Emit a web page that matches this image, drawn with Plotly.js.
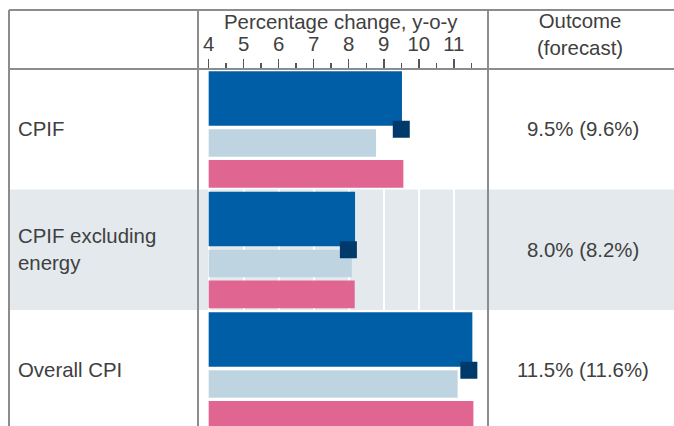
<!DOCTYPE html>
<html>
<head>
<meta charset="utf-8">
<script src="https://cdn.plot.ly/plotly-3.0.1.min.js"></script>
<style>
html,body{margin:0;padding:0;background:#fff;}
#chart{width:674px;height:426px;}
</style>
</head>
<body>
<div id="chart"></div>
<script>
// ---- data ----
const categories = ['CPIF', 'CPIF excluding energy', 'Overall CPI'];
const categoryLabels = ['CPIF', 'CPIF excluding<br>energy', 'Overall CPI'];
const darkBlueValues = [9.52, 8.18, 11.53];
const lightBlueValues = [8.78, 8.09, 11.11];
const pinkValues = [9.56, 8.17, 11.56];
const markerValues = [9.50, 7.99, 11.43];
const outcome = [9.5, 8.0, 11.5];
const forecast = [9.6, 8.2, 11.6];
const tickValues = [4, 5, 6, 7, 8, 9, 10, 11];
const axisTitle = 'Percentage change, y-o-y';
const outcomeHeader = 'Outcome<br>(forecast)';

// ---- layout constants ----
const W = 674, H = 426;
const FONT = 'Liberation Sans, Arial, sans-serif';
const FS = 20.4;
const TXT = '#404040';
const LINE = '#8c8c8c';
const BASE = 4;
const px = v => v / W;
const py = v => 1 - v / H;

const common = {type: 'bar', orientation: 'h', y: categories, base: BASE, hoverinfo: 'skip'};
const traces = [
  Object.assign({}, common, {x: darkBlueValues.map(v => v - BASE), offset: -0.481, width: 0.452,
    marker: {color: '#005ea6'}}),
  Object.assign({}, common, {x: lightBlueValues.map(v => v - BASE), offset: 0.0, width: 0.228,
    marker: {color: '#bed5e1'}}),
  Object.assign({}, common, {x: pinkValues.map(v => v - BASE), offset: 0.255, width: 0.23,
    marker: {color: '#e06590'}}),
  {type: 'scatter', mode: 'markers', x: markerValues, y: categories, hoverinfo: 'skip',
    marker: {symbol: 'square', size: 17, color: '#003a6a'}}
];

const shapes = [
  // shaded middle row
  {type: 'rect', xref: 'paper', yref: 'y', x0: px(9), x1: 1, y0: 0.5, y1: 1.5,
   fillcolor: '#e4e9ed', line: {width: 0}, layer: 'below'},
  // top border
  {type: 'line', xref: 'paper', yref: 'paper', x0: px(9), x1: 1, y0: py(10), y1: py(10),
   line: {color: LINE, width: 2}, layer: 'above'},
  // header bottom
  {type: 'line', xref: 'paper', yref: 'paper', x0: px(9), x1: 1, y0: py(69), y1: py(69),
   line: {color: LINE, width: 2}, layer: 'above'},
  // vertical lines
  {type: 'line', xref: 'paper', yref: 'paper', x0: px(9), x1: px(9), y0: py(10), y1: 0,
   line: {color: LINE, width: 2}, layer: 'above'},
  {type: 'line', xref: 'paper', yref: 'paper', x0: px(198), x1: px(198), y0: py(10), y1: 0,
   line: {color: LINE, width: 2}, layer: 'above'},
  {type: 'line', xref: 'paper', yref: 'paper', x0: px(488), x1: px(488), y0: py(10), y1: 0,
   line: {color: LINE, width: 2}, layer: 'above'}
];

const annotations = [];
categories.forEach((c, i) => {
  annotations.push({xref: 'paper', yref: 'y', x: px(16), y: c, xanchor: 'left', yanchor: 'middle',
    text: categoryLabels[i], showarrow: false, align: 'left',
    font: {family: FONT, size: FS, color: TXT}});
  annotations.push({xref: 'paper', yref: 'y', x: px(583), y: c, xanchor: 'center', yanchor: 'middle',
    text: outcome[i].toFixed(1) + '% (' + forecast[i].toFixed(1) + '%)', showarrow: false,
    font: {family: FONT, size: FS, color: TXT}});
});
annotations.push({xref: 'paper', yref: 'paper', x: px(341), y: py(22), xanchor: 'center', yanchor: 'middle',
  text: axisTitle, showarrow: false, font: {family: FONT, size: FS, color: TXT}});
annotations.push({xref: 'paper', yref: 'paper', x: px(580), y: py(35), xanchor: 'center', yanchor: 'middle',
  text: outcomeHeader, showarrow: false, font: {family: FONT, size: FS, color: TXT}});

const layout = {
  width: W, height: H,
  margin: {l: 0, r: 0, t: 0, b: 0, pad: 0},
  paper_bgcolor: '#fff', plot_bgcolor: 'rgba(0,0,0,0)',
  showlegend: false,
  barmode: 'overlay',
  xaxis: {
    domain: [px(198), px(488)],
    range: [3.695, 11.977],
    side: 'top', anchor: 'free', position: py(69),
    tickvals: tickValues, ticktext: tickValues.map(String),
    ticks: 'outside', ticklen: 10, tickwidth: 1.5, tickcolor: '#555',
    minor: {tick0: 4.5, dtick: 1, ticks: 'outside', ticklen: 6, tickwidth: 1.5, tickcolor: '#555', showgrid: false},
    showgrid: true, gridcolor: '#ffffff', gridwidth: 2,
    zeroline: false, showline: false,
    tickfont: {family: FONT, size: FS, color: TXT},
    fixedrange: true
  },
  yaxis: {
    domain: [0, 1],
    type: 'category', categoryorder: 'array', categoryarray: categories,
    range: [2.4627, -1.0726],
    showticklabels: false, ticks: '', showgrid: false, zeroline: false, showline: false,
    fixedrange: true
  },
  shapes: shapes,
  annotations: annotations
};

Plotly.newPlot('chart', traces, layout, {displayModeBar: false, staticPlot: true});
</script>
</body>
</html>
